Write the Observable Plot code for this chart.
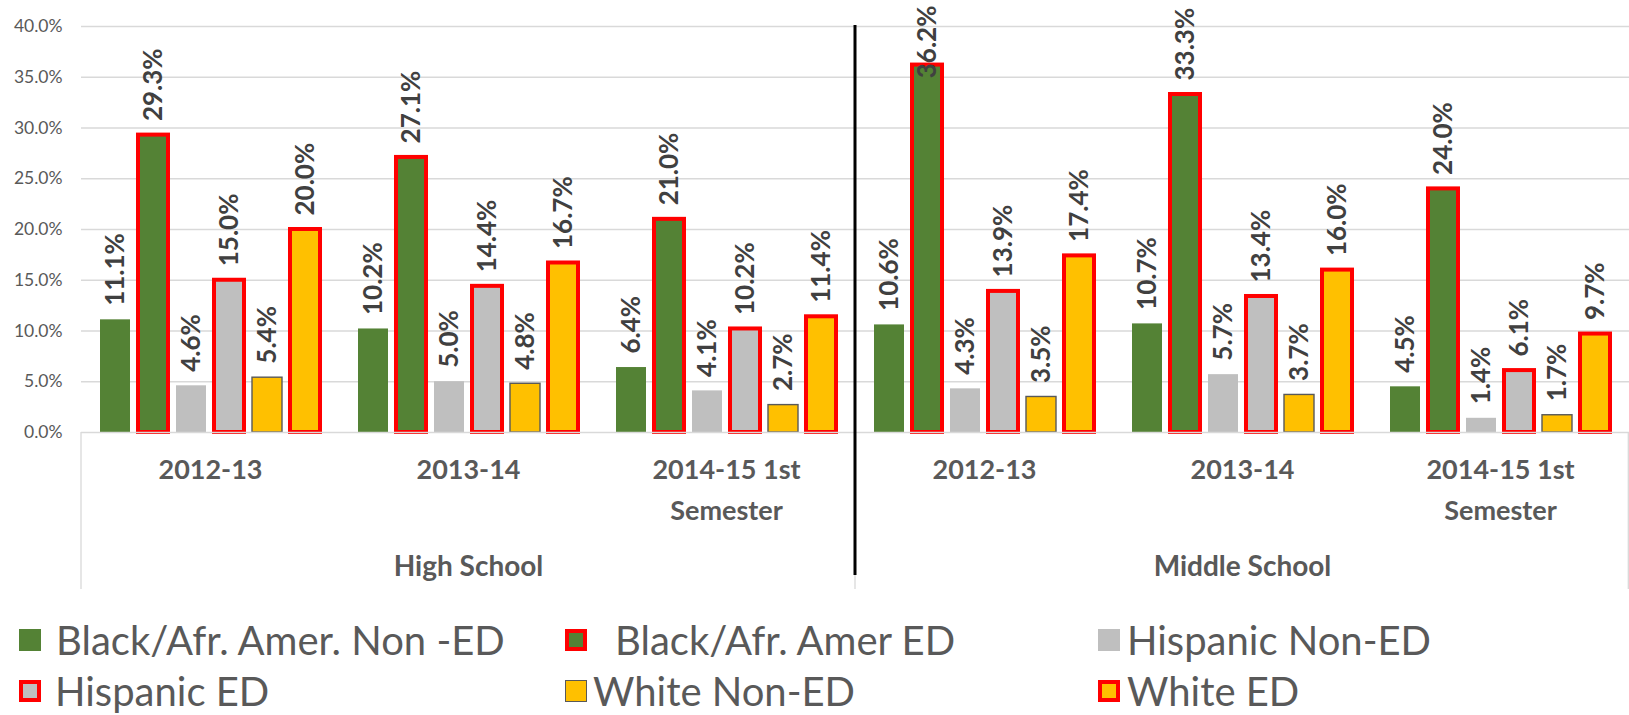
<!DOCTYPE html>
<html><head><meta charset="utf-8">
<script src="https://cdn.jsdelivr.net/npm/d3@7"></script>
<script src="https://cdn.jsdelivr.net/npm/@observablehq/plot@0.6"></script>
<style>
body{margin:0;background:#fff;font-family:Lato, sans-serif;}
#wrap{position:relative;width:1629px;height:715px;overflow:hidden;}
#legend{position:absolute;left:0;top:600px;width:1629px;height:115px;}
.item{position:absolute;display:flex;align-items:center;font-size:40px;color:#595959;white-space:pre;line-height:1;transform:translateY(-50%);}
.sw{width:22px;height:22px;box-sizing:border-box;flex:none;}
</style></head><body><div id="wrap"><div id="chart"></div><div id="legend"></div></div>
<script>
// ---- data ----
const schools = ["High School", "Middle School"];
const years = ["2012-13", "2013-14", "2014-15 1st\nSemester"];
const series = ["Black/Afr. Amer. Non -ED", "Black/Afr. Amer ED", "Hispanic Non-ED", "Hispanic ED", "White Non-ED", "White ED"];
const highSchool2012 = [11.1, 29.3, 4.6, 15.0, 5.4, 20.0];
const highSchool2013 = [10.2, 27.1, 5.0, 14.4, 4.8, 16.7];
const highSchool2014 = [6.4, 21.0, 4.1, 10.2, 2.7, 11.4];
const middleSchool2012 = [10.6, 36.2, 4.3, 13.9, 3.5, 17.4];
const middleSchool2013 = [10.7, 33.3, 5.7, 13.4, 3.7, 16.0];
const middleSchool2014 = [4.5, 24.0, 1.4, 6.1, 1.7, 9.7];
const yTicks = [0, 5, 10, 15, 20, 25, 30, 35, 40];

// ---- styles ----
const fills = ["#548235", "#548235", "#BFBFBF", "#BFBFBF", "#FFC000", "#FFC000"];
const edSeries = ["Black/Afr. Amer ED", "Hispanic ED", "White ED"];
const outlinedSeries = ["White Non-ED"];

const values = [[highSchool2012, highSchool2013, highSchool2014], [middleSchool2012, middleSchool2013, middleSchool2014]];
const groups = schools.flatMap(s => years.map(y => s + "|" + y));
const rows = [];
schools.forEach((s, si) => years.forEach((yr, yi) => series.forEach((se, k) =>
  rows.push({group: s + "|" + yr, school: s, year: yr, series: se, value: values[si][yi][k]}))));
const groupRows = schools.flatMap(s => years.map(y => ({group: s + "|" + y, year: y})));
const schoolRows = schools.map(s => ({group: s + "|" + years[1], school: s}));
const fmt = v => v.toFixed(1) + "%";
const isED = d => edSeries.includes(d.series);
const isOutlined = d => outlinedSeries.includes(d.series);
const tooTall = d => d.value > 34;

const plot = Plot.plot({
  width: 1629, height: 600,
  marginLeft: 81, marginRight: 0, marginTop: 26, marginBottom: 168,
  style: {fontFamily: "Lato, sans-serif", background: "white", overflow: "visible"},
  fx: {domain: groups, padding: 0, axis: null},
  x: {domain: series, paddingInner: 0.2, paddingOuter: 0.44, axis: null},
  y: {domain: [0, 40], axis: null},
  color: {domain: series, range: fills},
  marks: [
    Plot.ruleY(yTicks.filter(d => d > 0), {stroke: "#d9d9d9", strokeWidth: 1.3}),
    Plot.axisY({ticks: yTicks, tickFormat: fmt, tickSize: 0, tickPadding: 19, fontSize: 17.5, fill: "#595959", label: null}),
    Plot.barY(rows.filter(d => !isED(d) && !isOutlined(d)), {fx: "group", x: "series", y: "value", fill: "series"}),
    Plot.barY(rows.filter(isOutlined), {fx: "group", x: "series", y: "value", fill: "series", stroke: "#595959", strokeWidth: 1.4}),
    Plot.barY(rows.filter(isED), {fx: "group", x: "series", y: "value", fill: "series", stroke: "#FF0000", strokeWidth: 4}),
    Plot.ruleY([0], {stroke: "#d9d9d9", strokeWidth: 1.5}),
    Plot.text(rows.filter(d => !tooTall(d)), {fx: "group", x: "series", y: "value", text: d => fmt(d.value), rotate: -90, textAnchor: "start", dy: -14, fontSize: 26, fontWeight: "bold", fill: "#404040"}),
    Plot.text(rows.filter(tooTall), {fx: "group", x: "series", y: () => 40, text: d => fmt(d.value), rotate: -90, textAnchor: "end", dy: -21, fontSize: 26, fontWeight: "bold", fill: "#404040"}),
    Plot.text(groupRows, {fx: "group", text: "year", frameAnchor: "bottom", lineAnchor: "top", dy: 18, lineHeight: 1.5, fontSize: 27, fontWeight: "bold", fill: "#595959"}),
    Plot.text(schoolRows, {fx: "group", text: "school", frameAnchor: "bottom", lineAnchor: "middle", dy: 135, fontSize: 28, fontWeight: "bold", fill: "#595959"})
  ]
});
document.getElementById("chart").appendChild(plot);

// category-axis separators
(function () {
  const fxS = plot.scale("fx"), yS = plot.scale("y");
  const band = d3.scaleBand().domain(fxS.domain).range(fxS.range)
    .paddingInner(fxS.paddingInner || 0).paddingOuter(fxS.paddingOuter || 0).align(fxS.align ?? 0.5);
  const yLin = yS.apply ? yS.apply : d3.scaleLinear(yS.domain, yS.range);
  const y0 = yLin(0), yTop = yLin(40);
  const xLeft = band(groups[0]);
  const xDiv = band(groups[years.length]);
  const xRight = band(groups[groups.length - 1]) + band.bandwidth();
  const g = d3.select(plot).append("g");
  [xLeft, xDiv, xRight - 0.7].forEach(x => g.append("line").attr("x1", x).attr("x2", x).attr("y1", y0).attr("y2", y0 + 157).attr("stroke", "#d9d9d9").attr("stroke-width", 1.3));
  g.append("line").attr("x1", xDiv).attr("x2", xDiv).attr("y1", yTop - 1).attr("y2", y0 + 143).attr("stroke", "#000").attr("stroke-width", 3);
})();

// legend
const legendPos = [
  {left: 19, top: 40, gap: 15}, {left: 565, top: 40, gap: 28}, {left: 1098, top: 40, gap: 7},
  {left: 19, top: 91, gap: 14}, {left: 565, top: 91, gap: 6}, {left: 1098, top: 91, gap: 7}
];
const legend = document.getElementById("legend");
series.forEach((s, i) => {
  const item = document.createElement("div");
  item.className = "item";
  item.style.left = legendPos[i].left + "px";
  item.style.top = legendPos[i].top + "px";
  const sw = document.createElement("div");
  sw.className = "sw";
  sw.style.background = fills[i];
  if (edSeries.includes(s)) sw.style.border = "4px solid #FF0000";
  else if (outlinedSeries.includes(s)) sw.style.border = "1.4px solid #595959";
  sw.style.marginRight = legendPos[i].gap + "px";
  const t = document.createElement("span");
  t.textContent = s;
  item.appendChild(sw); item.appendChild(t);
  legend.appendChild(item);
});
</script></body></html>
